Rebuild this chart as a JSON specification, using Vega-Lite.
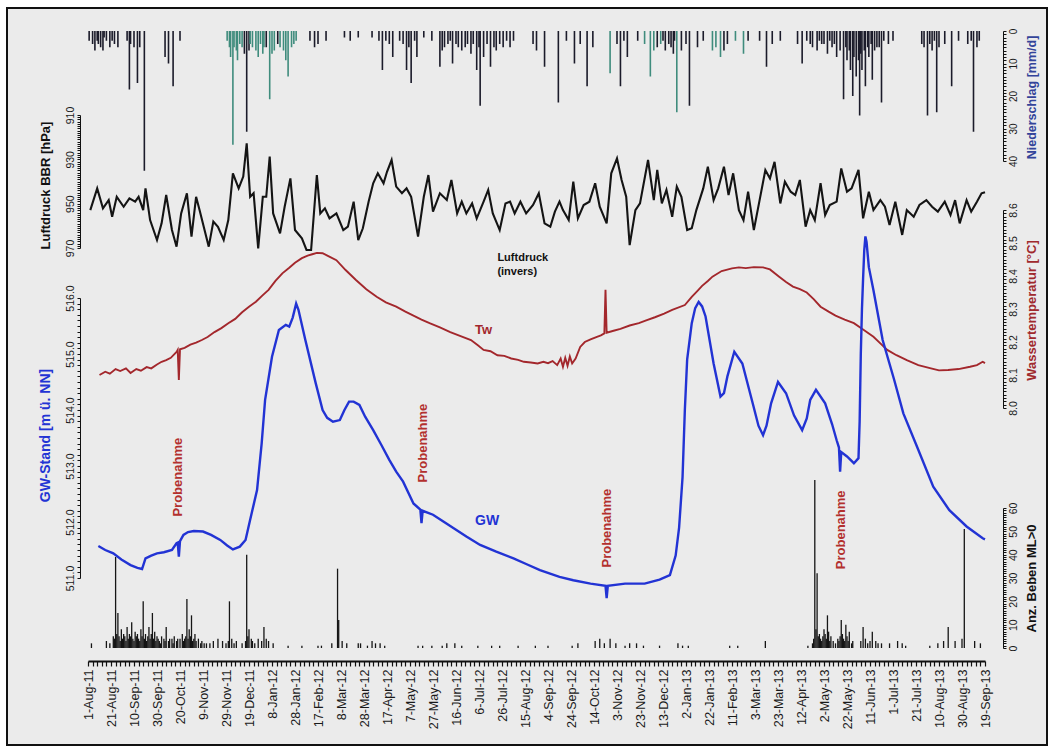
{
  "$schema": "https://vega.github.io/schema/vega-lite/v6.json",
  "autosize": "none",
  "padding": {"left": 7, "top": 8, "right": 7, "bottom": 6},
  "width": 1040,
  "height": 737,
  "background": "#ffffff",
  "config": {
    "font": "Liberation Sans",
    "view": {"stroke": "#111111", "strokeWidth": 2, "fill": "#ebebeb"},
    "axis": {"grid": false, "domainColor": "#111111", "tickColor": "#111111", "labelColor": "#1a1a1a", "labelFont": "Liberation Sans", "titleFont": "Liberation Sans", "labelOverlap": false, "labelFlush": false}
  },
  "encoding": {
    "x": {
      "field": "Datum", "type": "temporal",
      "scale": {"type": "utc", "domain": [{"year": 2011, "month": 8, "date": 1, "utc": true}, {"year": 2013, "month": 9, "date": 19, "utc": true}], "range": [81, 978]},
      "axis": {
        "orient": "bottom", "offset": -84, "title": null,
        "labelAngle": -90, "labelFontSize": 12.5, "labelPadding": 3,
        "tickSize": 5, "tickWidth": 1.2, "domainWidth": 2,
        "labelExpr": "round((datum.value - 1312156800000) / 86400000) % 20 == 0 ? utcFormat(datum.value, '%-d-%b-%y') : ''",
        "values": [
          {"year":2011,"month":8,"date":1,"utc":true},{"year":2011,"month":8,"date":5,"utc":true},{"year":2011,"month":8,"date":9,"utc":true},{"year":2011,"month":8,"date":13,"utc":true},{"year":2011,"month":8,"date":17,"utc":true},
          {"year":2011,"month":8,"date":21,"utc":true},{"year":2011,"month":8,"date":25,"utc":true},{"year":2011,"month":8,"date":29,"utc":true},{"year":2011,"month":8,"date":33,"utc":true},{"year":2011,"month":8,"date":37,"utc":true},
          {"year":2011,"month":8,"date":41,"utc":true},{"year":2011,"month":8,"date":45,"utc":true},{"year":2011,"month":8,"date":49,"utc":true},{"year":2011,"month":8,"date":53,"utc":true},{"year":2011,"month":8,"date":57,"utc":true},
          {"year":2011,"month":8,"date":61,"utc":true},{"year":2011,"month":8,"date":65,"utc":true},{"year":2011,"month":8,"date":69,"utc":true},{"year":2011,"month":8,"date":73,"utc":true},{"year":2011,"month":8,"date":77,"utc":true},
          {"year":2011,"month":8,"date":81,"utc":true},{"year":2011,"month":8,"date":85,"utc":true},{"year":2011,"month":8,"date":89,"utc":true},{"year":2011,"month":8,"date":93,"utc":true},{"year":2011,"month":8,"date":97,"utc":true},
          {"year":2011,"month":8,"date":101,"utc":true},{"year":2011,"month":8,"date":105,"utc":true},{"year":2011,"month":8,"date":109,"utc":true},{"year":2011,"month":8,"date":113,"utc":true},{"year":2011,"month":8,"date":117,"utc":true},
          {"year":2011,"month":8,"date":121,"utc":true},{"year":2011,"month":8,"date":125,"utc":true},{"year":2011,"month":8,"date":129,"utc":true},{"year":2011,"month":8,"date":133,"utc":true},{"year":2011,"month":8,"date":137,"utc":true},
          {"year":2011,"month":8,"date":141,"utc":true},{"year":2011,"month":8,"date":145,"utc":true},{"year":2011,"month":8,"date":149,"utc":true},{"year":2011,"month":8,"date":153,"utc":true},{"year":2011,"month":8,"date":157,"utc":true},
          {"year":2011,"month":8,"date":161,"utc":true},{"year":2011,"month":8,"date":165,"utc":true},{"year":2011,"month":8,"date":169,"utc":true},{"year":2011,"month":8,"date":173,"utc":true},{"year":2011,"month":8,"date":177,"utc":true},
          {"year":2011,"month":8,"date":181,"utc":true},{"year":2011,"month":8,"date":185,"utc":true},{"year":2011,"month":8,"date":189,"utc":true},{"year":2011,"month":8,"date":193,"utc":true},{"year":2011,"month":8,"date":197,"utc":true},
          {"year":2011,"month":8,"date":201,"utc":true},{"year":2011,"month":8,"date":205,"utc":true},{"year":2011,"month":8,"date":209,"utc":true},{"year":2011,"month":8,"date":213,"utc":true},{"year":2011,"month":8,"date":217,"utc":true},
          {"year":2011,"month":8,"date":221,"utc":true},{"year":2011,"month":8,"date":225,"utc":true},{"year":2011,"month":8,"date":229,"utc":true},{"year":2011,"month":8,"date":233,"utc":true},{"year":2011,"month":8,"date":237,"utc":true},
          {"year":2011,"month":8,"date":241,"utc":true},{"year":2011,"month":8,"date":245,"utc":true},{"year":2011,"month":8,"date":249,"utc":true},{"year":2011,"month":8,"date":253,"utc":true},{"year":2011,"month":8,"date":257,"utc":true},
          {"year":2011,"month":8,"date":261,"utc":true},{"year":2011,"month":8,"date":265,"utc":true},{"year":2011,"month":8,"date":269,"utc":true},{"year":2011,"month":8,"date":273,"utc":true},{"year":2011,"month":8,"date":277,"utc":true},
          {"year":2011,"month":8,"date":281,"utc":true},{"year":2011,"month":8,"date":285,"utc":true},{"year":2011,"month":8,"date":289,"utc":true},{"year":2011,"month":8,"date":293,"utc":true},{"year":2011,"month":8,"date":297,"utc":true},
          {"year":2011,"month":8,"date":301,"utc":true},{"year":2011,"month":8,"date":305,"utc":true},{"year":2011,"month":8,"date":309,"utc":true},{"year":2011,"month":8,"date":313,"utc":true},{"year":2011,"month":8,"date":317,"utc":true},
          {"year":2011,"month":8,"date":321,"utc":true},{"year":2011,"month":8,"date":325,"utc":true},{"year":2011,"month":8,"date":329,"utc":true},{"year":2011,"month":8,"date":333,"utc":true},{"year":2011,"month":8,"date":337,"utc":true},
          {"year":2011,"month":8,"date":341,"utc":true},{"year":2011,"month":8,"date":345,"utc":true},{"year":2011,"month":8,"date":349,"utc":true},{"year":2011,"month":8,"date":353,"utc":true},{"year":2011,"month":8,"date":357,"utc":true},
          {"year":2011,"month":8,"date":361,"utc":true},{"year":2011,"month":8,"date":365,"utc":true},{"year":2011,"month":8,"date":369,"utc":true},{"year":2011,"month":8,"date":373,"utc":true},{"year":2011,"month":8,"date":377,"utc":true},
          {"year":2011,"month":8,"date":381,"utc":true},{"year":2011,"month":8,"date":385,"utc":true},{"year":2011,"month":8,"date":389,"utc":true},{"year":2011,"month":8,"date":393,"utc":true},{"year":2011,"month":8,"date":397,"utc":true},
          {"year":2011,"month":8,"date":401,"utc":true},{"year":2011,"month":8,"date":405,"utc":true},{"year":2011,"month":8,"date":409,"utc":true},{"year":2011,"month":8,"date":413,"utc":true},{"year":2011,"month":8,"date":417,"utc":true},
          {"year":2011,"month":8,"date":421,"utc":true},{"year":2011,"month":8,"date":425,"utc":true},{"year":2011,"month":8,"date":429,"utc":true},{"year":2011,"month":8,"date":433,"utc":true},{"year":2011,"month":8,"date":437,"utc":true},
          {"year":2011,"month":8,"date":441,"utc":true},{"year":2011,"month":8,"date":445,"utc":true},{"year":2011,"month":8,"date":449,"utc":true},{"year":2011,"month":8,"date":453,"utc":true},{"year":2011,"month":8,"date":457,"utc":true},
          {"year":2011,"month":8,"date":461,"utc":true},{"year":2011,"month":8,"date":465,"utc":true},{"year":2011,"month":8,"date":469,"utc":true},{"year":2011,"month":8,"date":473,"utc":true},{"year":2011,"month":8,"date":477,"utc":true},
          {"year":2011,"month":8,"date":481,"utc":true},{"year":2011,"month":8,"date":485,"utc":true},{"year":2011,"month":8,"date":489,"utc":true},{"year":2011,"month":8,"date":493,"utc":true},{"year":2011,"month":8,"date":497,"utc":true},
          {"year":2011,"month":8,"date":501,"utc":true},{"year":2011,"month":8,"date":505,"utc":true},{"year":2011,"month":8,"date":509,"utc":true},{"year":2011,"month":8,"date":513,"utc":true},{"year":2011,"month":8,"date":517,"utc":true},
          {"year":2011,"month":8,"date":521,"utc":true},{"year":2011,"month":8,"date":525,"utc":true},{"year":2011,"month":8,"date":529,"utc":true},{"year":2011,"month":8,"date":533,"utc":true},{"year":2011,"month":8,"date":537,"utc":true},
          {"year":2011,"month":8,"date":541,"utc":true},{"year":2011,"month":8,"date":545,"utc":true},{"year":2011,"month":8,"date":549,"utc":true},{"year":2011,"month":8,"date":553,"utc":true},{"year":2011,"month":8,"date":557,"utc":true},
          {"year":2011,"month":8,"date":561,"utc":true},{"year":2011,"month":8,"date":565,"utc":true},{"year":2011,"month":8,"date":569,"utc":true},{"year":2011,"month":8,"date":573,"utc":true},{"year":2011,"month":8,"date":577,"utc":true},
          {"year":2011,"month":8,"date":581,"utc":true},{"year":2011,"month":8,"date":585,"utc":true},{"year":2011,"month":8,"date":589,"utc":true},{"year":2011,"month":8,"date":593,"utc":true},{"year":2011,"month":8,"date":597,"utc":true},
          {"year":2011,"month":8,"date":601,"utc":true},{"year":2011,"month":8,"date":605,"utc":true},{"year":2011,"month":8,"date":609,"utc":true},{"year":2011,"month":8,"date":613,"utc":true},{"year":2011,"month":8,"date":617,"utc":true},
          {"year":2011,"month":8,"date":621,"utc":true},{"year":2011,"month":8,"date":625,"utc":true},{"year":2011,"month":8,"date":629,"utc":true},{"year":2011,"month":8,"date":633,"utc":true},{"year":2011,"month":8,"date":637,"utc":true},
          {"year":2011,"month":8,"date":641,"utc":true},{"year":2011,"month":8,"date":645,"utc":true},{"year":2011,"month":8,"date":649,"utc":true},{"year":2011,"month":8,"date":653,"utc":true},{"year":2011,"month":8,"date":657,"utc":true},
          {"year":2011,"month":8,"date":661,"utc":true},{"year":2011,"month":8,"date":665,"utc":true},{"year":2011,"month":8,"date":669,"utc":true},{"year":2011,"month":8,"date":673,"utc":true},{"year":2011,"month":8,"date":677,"utc":true},
          {"year":2011,"month":8,"date":681,"utc":true},{"year":2011,"month":8,"date":685,"utc":true},{"year":2011,"month":8,"date":689,"utc":true},{"year":2011,"month":8,"date":693,"utc":true},{"year":2011,"month":8,"date":697,"utc":true},
          {"year":2011,"month":8,"date":701,"utc":true},{"year":2011,"month":8,"date":705,"utc":true},{"year":2011,"month":8,"date":709,"utc":true},{"year":2011,"month":8,"date":713,"utc":true},{"year":2011,"month":8,"date":717,"utc":true},
          {"year":2011,"month":8,"date":721,"utc":true},{"year":2011,"month":8,"date":725,"utc":true},{"year":2011,"month":8,"date":729,"utc":true},{"year":2011,"month":8,"date":733,"utc":true},{"year":2011,"month":8,"date":737,"utc":true},
          {"year":2011,"month":8,"date":741,"utc":true},{"year":2011,"month":8,"date":745,"utc":true},{"year":2011,"month":8,"date":749,"utc":true},{"year":2011,"month":8,"date":753,"utc":true},{"year":2011,"month":8,"date":757,"utc":true},
          {"year":2011,"month":8,"date":761,"utc":true},{"year":2011,"month":8,"date":765,"utc":true},{"year":2011,"month":8,"date":769,"utc":true},{"year":2011,"month":8,"date":773,"utc":true},{"year":2011,"month":8,"date":777,"utc":true},
          {"year":2011,"month":8,"date":781,"utc":true}
        ]
      }
    }
  },
  "layer": [
    {
      "data": {"values": [
        {"Datum":"2011-08-02","mm":3,"Art":"Regen"},{"Datum":"2011-08-05","mm":4,"Art":"Regen"},{"Datum":"2011-08-07","mm":6,"Art":"Regen"},{"Datum":"2011-08-09","mm":3,"Art":"Regen"},{"Datum":"2011-08-10","mm":4,"Art":"Regen"},
        {"Datum":"2011-08-12","mm":5,"Art":"Regen"},{"Datum":"2011-08-14","mm":6,"Art":"Regen"},{"Datum":"2011-08-15","mm":2,"Art":"Regen"},{"Datum":"2011-08-17","mm":3,"Art":"Regen"},{"Datum":"2011-08-20","mm":5,"Art":"Regen"},
        {"Datum":"2011-08-22","mm":3,"Art":"Regen"},{"Datum":"2011-08-24","mm":4,"Art":"Regen"},{"Datum":"2011-08-27","mm":5,"Art":"Regen"},
        {"Datum":"2011-09-04","mm":3,"Art":"Regen"},{"Datum":"2011-09-06","mm":18,"Art":"Regen"},{"Datum":"2011-09-07","mm":4,"Art":"Regen"},{"Datum":"2011-09-10","mm":5,"Art":"Regen"},{"Datum":"2011-09-13","mm":16,"Art":"Regen"},
        {"Datum":"2011-09-15","mm":5,"Art":"Regen"},{"Datum":"2011-09-19","mm":43,"Art":"Regen"},
        {"Datum":"2011-10-07","mm":8,"Art":"Regen"},{"Datum":"2011-10-10","mm":10,"Art":"Regen"},{"Datum":"2011-10-14","mm":17,"Art":"Regen"},{"Datum":"2011-10-20","mm":3,"Art":"Regen"},
        {"Datum":"2011-11-30","mm":3,"Art":"Schnee"},{"Datum":"2011-12-02","mm":5,"Art":"Schnee"},{"Datum":"2011-12-03","mm":8,"Art":"Schnee"},{"Datum":"2011-12-05","mm":35,"Art":"Schnee"},{"Datum":"2011-12-06","mm":5,"Art":"Schnee"},
        {"Datum":"2011-12-08","mm":6,"Art":"Schnee"},{"Datum":"2011-12-09","mm":9,"Art":"Schnee"},{"Datum":"2011-12-11","mm":4,"Art":"Schnee"},{"Datum":"2011-12-13","mm":5,"Art":"Schnee"},
        {"Datum":"2011-12-15","mm":7,"Art":"Regen"},{"Datum":"2011-12-17","mm":31,"Art":"Regen"},{"Datum":"2011-12-19","mm":6,"Art":"Regen"},{"Datum":"2011-12-20","mm":4,"Art":"Schnee"},{"Datum":"2011-12-22","mm":5,"Art":"Schnee"},
        {"Datum":"2011-12-25","mm":6,"Art":"Schnee"},{"Datum":"2011-12-27","mm":8,"Art":"Schnee"},{"Datum":"2011-12-29","mm":4,"Art":"Schnee"},{"Datum":"2011-12-31","mm":7,"Art":"Schnee"},{"Datum":"2012-01-01","mm":5,"Art":"Schnee"},
        {"Datum":"2012-01-03","mm":5,"Art":"Regen"},{"Datum":"2012-01-06","mm":21,"Art":"Schnee"},{"Datum":"2012-01-08","mm":7,"Art":"Schnee"},{"Datum":"2012-01-10","mm":6,"Art":"Schnee"},{"Datum":"2012-01-13","mm":4,"Art":"Regen"},
        {"Datum":"2012-01-15","mm":5,"Art":"Schnee"},{"Datum":"2012-01-18","mm":6,"Art":"Schnee"},{"Datum":"2012-01-20","mm":9,"Art":"Schnee"},{"Datum":"2012-01-22","mm":14,"Art":"Schnee"},{"Datum":"2012-01-25","mm":5,"Art":"Schnee"},
        {"Datum":"2012-01-27","mm":4,"Art":"Schnee"},{"Datum":"2012-01-29","mm":3,"Art":"Schnee"},
        {"Datum":"2012-02-10","mm":3,"Art":"Regen"},{"Datum":"2012-02-14","mm":5,"Art":"Regen"},{"Datum":"2012-02-17","mm":4,"Art":"Regen"},{"Datum":"2012-02-24","mm":3,"Art":"Regen"},
        {"Datum":"2012-03-11","mm":2,"Art":"Regen"},{"Datum":"2012-03-16","mm":3,"Art":"Regen"},{"Datum":"2012-03-23","mm":2,"Art":"Regen"},{"Datum":"2012-04-04","mm":2,"Art":"Regen"},{"Datum":"2012-04-10","mm":3,"Art":"Regen"},
        {"Datum":"2012-04-13","mm":12,"Art":"Regen"},{"Datum":"2012-04-16","mm":3,"Art":"Regen"},{"Datum":"2012-04-19","mm":4,"Art":"Regen"},{"Datum":"2012-04-22","mm":8,"Art":"Regen"},{"Datum":"2012-04-28","mm":3,"Art":"Regen"},
        {"Datum":"2012-05-01","mm":4,"Art":"Regen"},{"Datum":"2012-05-04","mm":12,"Art":"Regen"},{"Datum":"2012-05-06","mm":5,"Art":"Regen"},{"Datum":"2012-05-08","mm":16,"Art":"Regen"},{"Datum":"2012-05-11","mm":3,"Art":"Regen"},
        {"Datum":"2012-05-13","mm":8,"Art":"Regen"},{"Datum":"2012-05-19","mm":2,"Art":"Regen"},{"Datum":"2012-05-26","mm":3,"Art":"Regen"},
        {"Datum":"2012-06-02","mm":11,"Art":"Regen"},{"Datum":"2012-06-04","mm":6,"Art":"Regen"},{"Datum":"2012-06-06","mm":5,"Art":"Regen"},{"Datum":"2012-06-09","mm":4,"Art":"Regen"},{"Datum":"2012-06-11","mm":3,"Art":"Regen"},
        {"Datum":"2012-06-13","mm":10,"Art":"Regen"},{"Datum":"2012-06-16","mm":4,"Art":"Regen"},{"Datum":"2012-06-18","mm":5,"Art":"Regen"},{"Datum":"2012-06-21","mm":6,"Art":"Regen"},{"Datum":"2012-06-24","mm":5,"Art":"Regen"},
        {"Datum":"2012-06-26","mm":4,"Art":"Regen"},{"Datum":"2012-06-29","mm":7,"Art":"Regen"},{"Datum":"2012-07-01","mm":4,"Art":"Regen"},{"Datum":"2012-07-04","mm":12,"Art":"Regen"},{"Datum":"2012-07-06","mm":5,"Art":"Regen"},
        {"Datum":"2012-07-07","mm":23,"Art":"Regen"},{"Datum":"2012-07-10","mm":8,"Art":"Regen"},{"Datum":"2012-07-13","mm":4,"Art":"Regen"},{"Datum":"2012-07-16","mm":11,"Art":"Regen"},{"Datum":"2012-07-19","mm":5,"Art":"Regen"},
        {"Datum":"2012-07-21","mm":6,"Art":"Regen"},{"Datum":"2012-07-24","mm":4,"Art":"Regen"},{"Datum":"2012-07-27","mm":5,"Art":"Regen"},{"Datum":"2012-07-30","mm":3,"Art":"Regen"},
        {"Datum":"2012-08-02","mm":5,"Art":"Regen"},{"Datum":"2012-08-05","mm":3,"Art":"Regen"},{"Datum":"2012-08-22","mm":4,"Art":"Regen"},{"Datum":"2012-08-25","mm":6,"Art":"Regen"},
        {"Datum":"2012-09-01","mm":11,"Art":"Regen"},{"Datum":"2012-09-13","mm":22,"Art":"Regen"},{"Datum":"2012-09-20","mm":3,"Art":"Regen"},{"Datum":"2012-09-27","mm":10,"Art":"Regen"},
        {"Datum":"2012-10-02","mm":4,"Art":"Regen"},{"Datum":"2012-10-08","mm":17,"Art":"Regen"},{"Datum":"2012-10-13","mm":5,"Art":"Regen"},{"Datum":"2012-10-28","mm":13,"Art":"Schnee"},
        {"Datum":"2012-11-03","mm":4,"Art":"Regen"},{"Datum":"2012-11-06","mm":17,"Art":"Regen"},{"Datum":"2012-11-09","mm":3,"Art":"Regen"},{"Datum":"2012-11-12","mm":8,"Art":"Regen"},{"Datum":"2012-11-21","mm":3,"Art":"Regen"},
        {"Datum":"2012-11-27","mm":4,"Art":"Schnee"},{"Datum":"2012-12-02","mm":14,"Art":"Schnee"},{"Datum":"2012-12-05","mm":6,"Art":"Schnee"},{"Datum":"2012-12-08","mm":5,"Art":"Regen"},{"Datum":"2012-12-11","mm":4,"Art":"Schnee"},
        {"Datum":"2012-12-13","mm":3,"Art":"Regen"},{"Datum":"2012-12-15","mm":6,"Art":"Regen"},{"Datum":"2012-12-18","mm":4,"Art":"Regen"},{"Datum":"2012-12-20","mm":5,"Art":"Regen"},{"Datum":"2012-12-22","mm":7,"Art":"Regen"},
        {"Datum":"2012-12-23","mm":3,"Art":"Regen"},{"Datum":"2012-12-25","mm":25,"Art":"Schnee"},{"Datum":"2012-12-29","mm":6,"Art":"Regen"},
        {"Datum":"2013-01-02","mm":4,"Art":"Regen"},{"Datum":"2013-01-05","mm":23,"Art":"Regen"},{"Datum":"2013-01-12","mm":5,"Art":"Regen"},{"Datum":"2013-01-17","mm":3,"Art":"Regen"},
        {"Datum":"2013-01-25","mm":6,"Art":"Schnee"},{"Datum":"2013-01-28","mm":5,"Art":"Schnee"},{"Datum":"2013-02-01","mm":8,"Art":"Schnee"},{"Datum":"2013-02-04","mm":6,"Art":"Regen"},{"Datum":"2013-02-07","mm":4,"Art":"Regen"},
        {"Datum":"2013-02-14","mm":3,"Art":"Schnee"},{"Datum":"2013-02-21","mm":7,"Art":"Schnee"},{"Datum":"2013-02-25","mm":3,"Art":"Regen"},
        {"Datum":"2013-03-07","mm":3,"Art":"Regen"},{"Datum":"2013-03-13","mm":11,"Art":"Regen"},{"Datum":"2013-03-18","mm":4,"Art":"Regen"},{"Datum":"2013-03-25","mm":3,"Art":"Regen"},
        {"Datum":"2013-04-09","mm":4,"Art":"Regen"},{"Datum":"2013-04-13","mm":10,"Art":"Regen"},{"Datum":"2013-04-17","mm":3,"Art":"Regen"},{"Datum":"2013-04-20","mm":4,"Art":"Regen"},{"Datum":"2013-04-22","mm":5,"Art":"Regen"},
        {"Datum":"2013-04-26","mm":6,"Art":"Regen"},{"Datum":"2013-04-28","mm":3,"Art":"Regen"},{"Datum":"2013-04-30","mm":4,"Art":"Regen"},{"Datum":"2013-05-02","mm":4,"Art":"Regen"},{"Datum":"2013-05-05","mm":7,"Art":"Regen"},
        {"Datum":"2013-05-07","mm":3,"Art":"Regen"},{"Datum":"2013-05-09","mm":5,"Art":"Regen"},{"Datum":"2013-05-11","mm":4,"Art":"Regen"},{"Datum":"2013-05-13","mm":8,"Art":"Regen"},{"Datum":"2013-05-16","mm":6,"Art":"Regen"},
        {"Datum":"2013-05-19","mm":21,"Art":"Regen"},{"Datum":"2013-05-21","mm":5,"Art":"Regen"},{"Datum":"2013-05-22","mm":9,"Art":"Regen"},{"Datum":"2013-05-24","mm":6,"Art":"Regen"},{"Datum":"2013-05-25","mm":12,"Art":"Regen"},
        {"Datum":"2013-05-27","mm":20,"Art":"Regen"},{"Datum":"2013-05-28","mm":8,"Art":"Regen"},{"Datum":"2013-05-30","mm":14,"Art":"Regen"},{"Datum":"2013-06-01","mm":9,"Art":"Regen"},{"Datum":"2013-06-02","mm":26,"Art":"Regen"},
        {"Datum":"2013-06-03","mm":7,"Art":"Regen"},{"Datum":"2013-06-04","mm":12,"Art":"Regen"},{"Datum":"2013-06-06","mm":6,"Art":"Regen"},{"Datum":"2013-06-07","mm":17,"Art":"Regen"},{"Datum":"2013-06-09","mm":5,"Art":"Regen"},
        {"Datum":"2013-06-10","mm":8,"Art":"Regen"},{"Datum":"2013-06-12","mm":4,"Art":"Regen"},{"Datum":"2013-06-13","mm":15,"Art":"Regen"},{"Datum":"2013-06-15","mm":6,"Art":"Regen"},{"Datum":"2013-06-17","mm":5,"Art":"Regen"},
        {"Datum":"2013-06-19","mm":5,"Art":"Regen"},{"Datum":"2013-06-21","mm":22,"Art":"Regen"},{"Datum":"2013-06-23","mm":3,"Art":"Regen"},{"Datum":"2013-06-27","mm":4,"Art":"Regen"},{"Datum":"2013-07-01","mm":3,"Art":"Regen"},
        {"Datum":"2013-07-26","mm":4,"Art":"Regen"},{"Datum":"2013-07-28","mm":5,"Art":"Regen"},{"Datum":"2013-07-31","mm":26,"Art":"Regen"},{"Datum":"2013-08-02","mm":4,"Art":"Regen"},{"Datum":"2013-08-04","mm":6,"Art":"Regen"},
        {"Datum":"2013-08-06","mm":3,"Art":"Regen"},{"Datum":"2013-08-08","mm":25,"Art":"Regen"},{"Datum":"2013-08-10","mm":5,"Art":"Regen"},{"Datum":"2013-08-15","mm":4,"Art":"Regen"},{"Datum":"2013-08-21","mm":17,"Art":"Regen"},
        {"Datum":"2013-08-27","mm":3,"Art":"Regen"},{"Datum":"2013-09-04","mm":4,"Art":"Regen"},{"Datum":"2013-09-07","mm":3,"Art":"Regen"},{"Datum":"2013-09-09","mm":31,"Art":"Regen"},{"Datum":"2013-09-12","mm":5,"Art":"Regen"},
        {"Datum":"2013-09-14","mm":3,"Art":"Regen"}
      ]},
      "mark": {"type": "rule", "strokeWidth": 1.6},
      "encoding": {
        "y": {"field": "mm", "type": "quantitative",
          "scale": {"domain": [0, 40], "range": [23, 153], "nice": false, "zero": false},
          "axis": {"orient": "right", "offset": -44, "tickCount": 40, "tickSize": 3, "labelAngle": -90, "labelFontSize": 10, "labelPadding": 2,
            "labelExpr": "datum.value % 10 == 0 ? datum.label : ''",
            "title": "Niederschlag [mm/d]", "titleColor": "#33449a", "titleFontSize": 12.5, "titleFontWeight": "bold",
            "titleAngle": -90, "titleX": 28, "titleY": 89, "titleAlign": "center", "titleBaseline": "middle"}},
        "y2": {"datum": 0},
        "color": {"field": "Art", "type": "nominal", "scale": {"domain": ["Regen", "Schnee"], "range": ["#1b1b2a", "#3f8c7d"]}, "legend": null}
      }
    },
    {
      "data": {"values": [
        {"Datum":"2011-08-03","hPa":952.9},{"Datum":"2011-08-09","hPa":943.1},{"Datum":"2011-08-14","hPa":952.1},{"Datum":"2011-08-19","hPa":948.4},{"Datum":"2011-08-22","hPa":955.9},
        {"Datum":"2011-08-26","hPa":946.9},{"Datum":"2011-09-01","hPa":951.4},{"Datum":"2011-09-06","hPa":947.6},{"Datum":"2011-09-11","hPa":949.1},{"Datum":"2011-09-14","hPa":946.9},
        {"Datum":"2011-09-18","hPa":952.9},{"Datum":"2011-09-20","hPa":943.1},{"Datum":"2011-09-24","hPa":957.4},{"Datum":"2011-09-30","hPa":966.4},{"Datum":"2011-10-04","hPa":958.9},
        {"Datum":"2011-10-08","hPa":946.1},{"Datum":"2011-10-13","hPa":961.9},{"Datum":"2011-10-17","hPa":969.4},{"Datum":"2011-10-21","hPa":954.4},{"Datum":"2011-10-26","hPa":945.3},
        {"Datum":"2011-10-30","hPa":964.9},{"Datum":"2011-11-03","hPa":946.9},{"Datum":"2011-11-06","hPa":952.9},{"Datum":"2011-11-14","hPa":969.4},{"Datum":"2011-11-18","hPa":958.1},
        {"Datum":"2011-11-22","hPa":960.4},{"Datum":"2011-11-27","hPa":966.4},{"Datum":"2011-12-01","hPa":957.4},{"Datum":"2011-12-05","hPa":936.3},{"Datum":"2011-12-10","hPa":943.1},
        {"Datum":"2011-12-14","hPa":937.8},{"Datum":"2011-12-17","hPa":922.8},{"Datum":"2011-12-20","hPa":946.9},{"Datum":"2011-12-23","hPa":945.3},{"Datum":"2011-12-27","hPa":970.2},
        {"Datum":"2011-12-31","hPa":946.9},{"Datum":"2012-01-03","hPa":946.9},{"Datum":"2012-01-06","hPa":928.8},{"Datum":"2012-01-09","hPa":954.4},{"Datum":"2012-01-15","hPa":963.4},
        {"Datum":"2012-01-19","hPa":951.4},{"Datum":"2012-01-24","hPa":938.6},{"Datum":"2012-01-28","hPa":961.9},{"Datum":"2012-02-03","hPa":965.6},{"Datum":"2012-02-07","hPa":970.9},
        {"Datum":"2012-02-11","hPa":970.9},{"Datum":"2012-02-16","hPa":937.1},{"Datum":"2012-02-19","hPa":954.4},{"Datum":"2012-02-23","hPa":952.1},{"Datum":"2012-02-27","hPa":956.6},
        {"Datum":"2012-03-04","hPa":954.4},{"Datum":"2012-03-10","hPa":961.9},{"Datum":"2012-03-14","hPa":960.4},{"Datum":"2012-03-19","hPa":949.1},{"Datum":"2012-03-23","hPa":966.4},
        {"Datum":"2012-03-27","hPa":961.1},{"Datum":"2012-04-01","hPa":949.1},{"Datum":"2012-04-05","hPa":940.8},{"Datum":"2012-04-09","hPa":936.3},{"Datum":"2012-04-14","hPa":940.8},
        {"Datum":"2012-04-17","hPa":935.6},{"Datum":"2012-04-21","hPa":930.3},{"Datum":"2012-04-25","hPa":942.3},{"Datum":"2012-04-30","hPa":945.3},{"Datum":"2012-05-04","hPa":943.1},
        {"Datum":"2012-05-08","hPa":946.9},{"Datum":"2012-05-14","hPa":964.9},{"Datum":"2012-05-19","hPa":946.9},{"Datum":"2012-05-23","hPa":937.1},{"Datum":"2012-05-27","hPa":953.6},
        {"Datum":"2012-06-02","hPa":945.3},{"Datum":"2012-06-08","hPa":948.3},{"Datum":"2012-06-12","hPa":939.3},{"Datum":"2012-06-17","hPa":954.4},{"Datum":"2012-06-21","hPa":949.1},
        {"Datum":"2012-06-25","hPa":954.4},{"Datum":"2012-06-30","hPa":949.9},{"Datum":"2012-07-04","hPa":956.6},{"Datum":"2012-07-10","hPa":949.1},{"Datum":"2012-07-14","hPa":943.8},
        {"Datum":"2012-07-18","hPa":954.4},{"Datum":"2012-07-24","hPa":961.9},{"Datum":"2012-07-29","hPa":949.9},{"Datum":"2012-08-02","hPa":949.1},{"Datum":"2012-08-06","hPa":954.4},
        {"Datum":"2012-08-11","hPa":949.1},{"Datum":"2012-08-16","hPa":954.4},{"Datum":"2012-08-22","hPa":950.6},{"Datum":"2012-08-27","hPa":945.3},{"Datum":"2012-09-01","hPa":958.9},
        {"Datum":"2012-09-06","hPa":960.4},{"Datum":"2012-09-10","hPa":953.6},{"Datum":"2012-09-14","hPa":949.1},{"Datum":"2012-09-17","hPa":952.9},{"Datum":"2012-09-22","hPa":957.4},
        {"Datum":"2012-09-26","hPa":940.1},{"Datum":"2012-09-30","hPa":956.6},{"Datum":"2012-10-05","hPa":950.6},{"Datum":"2012-10-10","hPa":949.1},{"Datum":"2012-10-15","hPa":940.8},
        {"Datum":"2012-10-19","hPa":951.4},{"Datum":"2012-10-25","hPa":958.9},{"Datum":"2012-10-29","hPa":936.3},{"Datum":"2012-11-03","hPa":929.6},{"Datum":"2012-11-07","hPa":939.3},
        {"Datum":"2012-11-11","hPa":946.9},{"Datum":"2012-11-14","hPa":968.7},{"Datum":"2012-11-19","hPa":952.9},{"Datum":"2012-11-23","hPa":949.9},{"Datum":"2012-11-30","hPa":930.3},
        {"Datum":"2012-12-05","hPa":948.4},{"Datum":"2012-12-08","hPa":934.8},{"Datum":"2012-12-12","hPa":949.9},{"Datum":"2012-12-16","hPa":943.8},{"Datum":"2012-12-21","hPa":955.9},
        {"Datum":"2012-12-25","hPa":942.3},{"Datum":"2012-12-29","hPa":946.9},{"Datum":"2013-01-03","hPa":961.9},{"Datum":"2013-01-07","hPa":961.1},{"Datum":"2013-01-11","hPa":952.9},
        {"Datum":"2013-01-17","hPa":943.1},{"Datum":"2013-01-21","hPa":933.3},{"Datum":"2013-01-26","hPa":948.4},{"Datum":"2013-01-30","hPa":943.1},{"Datum":"2013-02-04","hPa":933.3},
        {"Datum":"2013-02-08","hPa":946.1},{"Datum":"2013-02-12","hPa":936.3},{"Datum":"2013-02-17","hPa":952.9},{"Datum":"2013-02-21","hPa":957.4},{"Datum":"2013-02-25","hPa":944.6},
        {"Datum":"2013-03-02","hPa":961.9},{"Datum":"2013-03-07","hPa":948.4},{"Datum":"2013-03-12","hPa":934.8},{"Datum":"2013-03-16","hPa":938.6},{"Datum":"2013-03-20","hPa":931.1},
        {"Datum":"2013-03-25","hPa":949.9},{"Datum":"2013-03-29","hPa":940.1},{"Datum":"2013-04-03","hPa":944.6},{"Datum":"2013-04-07","hPa":946.1},{"Datum":"2013-04-11","hPa":939.3},
        {"Datum":"2013-04-16","hPa":960.4},{"Datum":"2013-04-20","hPa":952.9},{"Datum":"2013-04-24","hPa":957.4},{"Datum":"2013-04-29","hPa":940.8},{"Datum":"2013-05-03","hPa":955.1},
        {"Datum":"2013-05-07","hPa":950.6},{"Datum":"2013-05-13","hPa":949.1},{"Datum":"2013-05-17","hPa":934.1},{"Datum":"2013-05-22","hPa":944.6},{"Datum":"2013-05-26","hPa":943.1},
        {"Datum":"2013-06-01","hPa":934.8},{"Datum":"2013-06-05","hPa":956.6},{"Datum":"2013-06-10","hPa":944.6},{"Datum":"2013-06-14","hPa":952.9},{"Datum":"2013-06-20","hPa":948.4},
        {"Datum":"2013-06-24","hPa":951.4},{"Datum":"2013-06-28","hPa":959.6},{"Datum":"2013-07-03","hPa":949.1},{"Datum":"2013-07-09","hPa":964.1},{"Datum":"2013-07-13","hPa":952.9},
        {"Datum":"2013-07-19","hPa":955.9},{"Datum":"2013-07-24","hPa":950.6},{"Datum":"2013-07-30","hPa":948.4},{"Datum":"2013-08-04","hPa":951.4},{"Datum":"2013-08-09","hPa":953.6},
        {"Datum":"2013-08-15","hPa":949.1},{"Datum":"2013-08-20","hPa":955.1},{"Datum":"2013-08-24","hPa":948.4},{"Datum":"2013-08-28","hPa":958.9},{"Datum":"2013-09-03","hPa":948.4},
        {"Datum":"2013-09-07","hPa":953.6},{"Datum":"2013-09-12","hPa":949.1},{"Datum":"2013-09-16","hPa":945.3},{"Datum":"2013-09-19","hPa":944.8}
      ]},
      "mark": {"type": "line", "color": "#141414", "strokeWidth": 2.1, "strokeJoin": "miter"},
      "encoding": {
        "y": {"field": "hPa", "type": "quantitative",
          "scale": {"domain": [910, 970], "range": [107, 240], "nice": false, "zero": false},
          "axis": {"orient": "left", "offset": -73, "tickCount": 60, "tickSize": 3, "labelAngle": -90, "labelFontSize": 10.5, "labelPadding": 2,
            "labelExpr": "datum.value % 20 == 10 ? datum.label : ''",
            "title": "Luftdruck BBR [hPa]", "titleColor": "#111111", "titleFontSize": 13, "titleFontWeight": "bold",
            "titleAngle": -90, "titleX": -35, "titleY": 177, "titleAlign": "center", "titleBaseline": "middle"}}
      }
    },
    {
      "data": {"values": [
        {"Datum":"2011-08-04","Anzahl":2},{"Datum":"2011-08-17","Anzahl":3},{"Datum":"2011-08-20","Anzahl":2},{"Datum":"2011-08-23","Anzahl":5},{"Datum":"2011-08-24","Anzahl":4},
        {"Datum":"2011-08-25","Anzahl":39},{"Datum":"2011-08-26","Anzahl":6},{"Datum":"2011-08-27","Anzahl":15},{"Datum":"2011-08-28","Anzahl":5},{"Datum":"2011-08-29","Anzahl":3},
        {"Datum":"2011-08-30","Anzahl":8},{"Datum":"2011-08-31","Anzahl":4},{"Datum":"2011-09-01","Anzahl":6},{"Datum":"2011-09-02","Anzahl":5},{"Datum":"2011-09-03","Anzahl":3},
        {"Datum":"2011-09-04","Anzahl":9},{"Datum":"2011-09-05","Anzahl":4},{"Datum":"2011-09-06","Anzahl":6},{"Datum":"2011-09-07","Anzahl":5},{"Datum":"2011-09-08","Anzahl":11},
        {"Datum":"2011-09-09","Anzahl":4},{"Datum":"2011-09-10","Anzahl":3},{"Datum":"2011-09-11","Anzahl":7},{"Datum":"2011-09-12","Anzahl":5},{"Datum":"2011-09-13","Anzahl":6},
        {"Datum":"2011-09-14","Anzahl":4},{"Datum":"2011-09-15","Anzahl":3},{"Datum":"2011-09-16","Anzahl":8},{"Datum":"2011-09-17","Anzahl":5},{"Datum":"2011-09-18","Anzahl":20},
        {"Datum":"2011-09-19","Anzahl":4},{"Datum":"2011-09-20","Anzahl":6},{"Datum":"2011-09-21","Anzahl":3},{"Datum":"2011-09-22","Anzahl":5},{"Datum":"2011-09-23","Anzahl":9},
        {"Datum":"2011-09-24","Anzahl":4},{"Datum":"2011-09-25","Anzahl":6},{"Datum":"2011-09-26","Anzahl":15},{"Datum":"2011-09-27","Anzahl":4},{"Datum":"2011-09-28","Anzahl":7},
        {"Datum":"2011-09-29","Anzahl":3},{"Datum":"2011-09-30","Anzahl":5},{"Datum":"2011-10-01","Anzahl":4},{"Datum":"2011-10-02","Anzahl":3},{"Datum":"2011-10-03","Anzahl":2},
        {"Datum":"2011-10-04","Anzahl":5},{"Datum":"2011-10-06","Anzahl":4},{"Datum":"2011-10-07","Anzahl":3},{"Datum":"2011-10-08","Anzahl":9},{"Datum":"2011-10-10","Anzahl":3},
        {"Datum":"2011-10-11","Anzahl":4},{"Datum":"2011-10-13","Anzahl":4},{"Datum":"2011-10-14","Anzahl":2},{"Datum":"2011-10-15","Anzahl":5},{"Datum":"2011-10-17","Anzahl":3},
        {"Datum":"2011-10-18","Anzahl":4},{"Datum":"2011-10-20","Anzahl":4},{"Datum":"2011-10-22","Anzahl":6},{"Datum":"2011-10-23","Anzahl":3},{"Datum":"2011-10-24","Anzahl":4},
        {"Datum":"2011-10-25","Anzahl":5},{"Datum":"2011-10-26","Anzahl":21},{"Datum":"2011-10-27","Anzahl":4},{"Datum":"2011-10-28","Anzahl":8},{"Datum":"2011-10-29","Anzahl":5},
        {"Datum":"2011-10-30","Anzahl":14},{"Datum":"2011-10-31","Anzahl":3},{"Datum":"2011-11-01","Anzahl":4},{"Datum":"2011-11-02","Anzahl":6},{"Datum":"2011-11-03","Anzahl":3},
        {"Datum":"2011-11-05","Anzahl":4},{"Datum":"2011-11-07","Anzahl":2},{"Datum":"2011-11-08","Anzahl":3},{"Datum":"2011-11-10","Anzahl":2},{"Datum":"2011-11-12","Anzahl":2},
        {"Datum":"2011-11-15","Anzahl":2},{"Datum":"2011-11-18","Anzahl":3},{"Datum":"2011-11-22","Anzahl":4},{"Datum":"2011-11-26","Anzahl":3},{"Datum":"2011-11-29","Anzahl":2},
        {"Datum":"2011-12-01","Anzahl":3},{"Datum":"2011-12-02","Anzahl":20},{"Datum":"2011-12-04","Anzahl":4},{"Datum":"2011-12-06","Anzahl":2},{"Datum":"2011-12-08","Anzahl":3},
        {"Datum":"2011-12-13","Anzahl":2},{"Datum":"2011-12-16","Anzahl":3},{"Datum":"2011-12-17","Anzahl":40},{"Datum":"2011-12-18","Anzahl":5},{"Datum":"2011-12-19","Anzahl":8},
        {"Datum":"2011-12-21","Anzahl":4},{"Datum":"2011-12-22","Anzahl":3},{"Datum":"2011-12-24","Anzahl":2},{"Datum":"2011-12-27","Anzahl":4},{"Datum":"2011-12-30","Anzahl":3},
        {"Datum":"2012-01-01","Anzahl":9},{"Datum":"2012-01-03","Anzahl":4},{"Datum":"2012-01-05","Anzahl":3},{"Datum":"2012-01-09","Anzahl":2},{"Datum":"2012-01-22","Anzahl":1},
        {"Datum":"2012-02-03","Anzahl":1},{"Datum":"2012-02-17","Anzahl":1},{"Datum":"2012-02-20","Anzahl":1},{"Datum":"2012-02-29","Anzahl":2},{"Datum":"2012-03-05","Anzahl":34},
        {"Datum":"2012-03-06","Anzahl":12},{"Datum":"2012-03-09","Anzahl":3},{"Datum":"2012-03-13","Anzahl":2},{"Datum":"2012-03-23","Anzahl":2},{"Datum":"2012-03-25","Anzahl":2},
        {"Datum":"2012-03-31","Anzahl":1},{"Datum":"2012-04-04","Anzahl":3},{"Datum":"2012-04-07","Anzahl":2},{"Datum":"2012-04-11","Anzahl":2},{"Datum":"2012-04-15","Anzahl":1},
        {"Datum":"2012-05-14","Anzahl":1},{"Datum":"2012-05-18","Anzahl":1},{"Datum":"2012-05-26","Anzahl":1},{"Datum":"2012-06-04","Anzahl":1},{"Datum":"2012-06-08","Anzahl":2},
        {"Datum":"2012-06-15","Anzahl":2},{"Datum":"2012-06-21","Anzahl":1},{"Datum":"2012-07-05","Anzahl":1},{"Datum":"2012-07-17","Anzahl":1},{"Datum":"2012-07-24","Anzahl":1},
        {"Datum":"2012-08-09","Anzahl":1},{"Datum":"2012-08-24","Anzahl":1},{"Datum":"2012-09-04","Anzahl":1},{"Datum":"2012-09-25","Anzahl":1},{"Datum":"2012-09-30","Anzahl":2},
        {"Datum":"2012-10-15","Anzahl":3},{"Datum":"2012-10-19","Anzahl":4},{"Datum":"2012-10-23","Anzahl":2},{"Datum":"2012-10-28","Anzahl":4},{"Datum":"2012-11-02","Anzahl":2},
        {"Datum":"2012-11-10","Anzahl":1},{"Datum":"2012-11-14","Anzahl":2},{"Datum":"2012-11-20","Anzahl":2},{"Datum":"2012-11-26","Anzahl":1},{"Datum":"2012-12-10","Anzahl":1},
        {"Datum":"2012-12-26","Anzahl":2},{"Datum":"2012-12-30","Anzahl":1},{"Datum":"2013-01-04","Anzahl":1},{"Datum":"2013-02-09","Anzahl":1},{"Datum":"2013-02-16","Anzahl":1},
        {"Datum":"2013-03-12","Anzahl":3},{"Datum":"2013-04-18","Anzahl":1},{"Datum":"2013-04-22","Anzahl":2},{"Datum":"2013-04-23","Anzahl":4},{"Datum":"2013-04-24","Anzahl":72},
        {"Datum":"2013-04-25","Anzahl":8},{"Datum":"2013-04-26","Anzahl":32},{"Datum":"2013-04-27","Anzahl":5},{"Datum":"2013-04-28","Anzahl":6},{"Datum":"2013-04-29","Anzahl":4},
        {"Datum":"2013-04-30","Anzahl":3},{"Datum":"2013-05-01","Anzahl":5},{"Datum":"2013-05-02","Anzahl":8},{"Datum":"2013-05-03","Anzahl":6},{"Datum":"2013-05-04","Anzahl":4},
        {"Datum":"2013-05-05","Anzahl":14},{"Datum":"2013-05-06","Anzahl":7},{"Datum":"2013-05-07","Anzahl":3},{"Datum":"2013-05-08","Anzahl":5},{"Datum":"2013-05-10","Anzahl":3},
        {"Datum":"2013-05-12","Anzahl":2},{"Datum":"2013-05-14","Anzahl":4},{"Datum":"2013-05-15","Anzahl":3},{"Datum":"2013-05-16","Anzahl":5},{"Datum":"2013-05-17","Anzahl":12},
        {"Datum":"2013-05-18","Anzahl":6},{"Datum":"2013-05-19","Anzahl":4},{"Datum":"2013-05-20","Anzahl":3},{"Datum":"2013-05-21","Anzahl":10},{"Datum":"2013-05-22","Anzahl":5},
        {"Datum":"2013-05-23","Anzahl":3},{"Datum":"2013-05-24","Anzahl":7},{"Datum":"2013-05-26","Anzahl":2},{"Datum":"2013-05-27","Anzahl":3},{"Datum":"2013-06-03","Anzahl":3},
        {"Datum":"2013-06-05","Anzahl":9},{"Datum":"2013-06-07","Anzahl":4},{"Datum":"2013-06-09","Anzahl":2},{"Datum":"2013-06-11","Anzahl":3},{"Datum":"2013-06-13","Anzahl":7},
        {"Datum":"2013-06-16","Anzahl":3},{"Datum":"2013-06-18","Anzahl":2},{"Datum":"2013-06-21","Anzahl":2},{"Datum":"2013-06-28","Anzahl":2},{"Datum":"2013-07-05","Anzahl":3},
        {"Datum":"2013-07-09","Anzahl":2},{"Datum":"2013-07-12","Anzahl":1},{"Datum":"2013-08-02","Anzahl":1},{"Datum":"2013-08-09","Anzahl":2},{"Datum":"2013-08-14","Anzahl":3},
        {"Datum":"2013-08-18","Anzahl":9},{"Datum":"2013-08-24","Anzahl":3},{"Datum":"2013-08-30","Anzahl":4},{"Datum":"2013-09-01","Anzahl":51},{"Datum":"2013-09-10","Anzahl":3},
        {"Datum":"2013-09-15","Anzahl":2}
      ]},
      "mark": {"type": "rule", "color": "#151515", "strokeWidth": 1.3},
      "encoding": {
        "y": {"field": "Anzahl", "type": "quantitative",
          "scale": {"domain": [0, 60], "range": [640, 500], "nice": false, "zero": false},
          "axis": {"orient": "right", "offset": -44, "tickCount": 60, "tickSize": 3, "labelAngle": -90, "labelFontSize": 10.5, "labelPadding": 2,
            "labelExpr": "datum.value % 10 == 0 ? datum.label : ''",
            "title": "Anz. Beben ML>0", "titleColor": "#111111", "titleFontSize": 13, "titleFontWeight": "bold",
            "titleAngle": -90, "titleX": 28, "titleY": 570, "titleAlign": "center", "titleBaseline": "middle"}},
        "y2": {"datum": 0}
      }
    },
    {
      "data": {"values": [
        {"Datum":"2011-08-11","Tw":8.100},{"Datum":"2011-08-16","Tw":8.110},{"Datum":"2011-08-20","Tw":8.104},{"Datum":"2011-08-25","Tw":8.118},{"Datum":"2011-08-29","Tw":8.112},
        {"Datum":"2011-09-03","Tw":8.120},{"Datum":"2011-09-07","Tw":8.106},{"Datum":"2011-09-12","Tw":8.118},{"Datum":"2011-09-16","Tw":8.113},{"Datum":"2011-09-21","Tw":8.124},
        {"Datum":"2011-09-25","Tw":8.120},{"Datum":"2011-09-30","Tw":8.132},{"Datum":"2011-10-04","Tw":8.140},{"Datum":"2011-10-08","Tw":8.145},{"Datum":"2011-10-12","Tw":8.152},
        {"Datum":"2011-10-17","Tw":8.170},{"Datum":"2011-10-18","Tw":8.176},{"Datum":"2011-10-19","Tw":8.085},{"Datum":"2011-10-20","Tw":8.178},{"Datum":"2011-10-24","Tw":8.182},
        {"Datum":"2011-10-29","Tw":8.192},{"Datum":"2011-11-03","Tw":8.198},{"Datum":"2011-11-08","Tw":8.206},{"Datum":"2011-11-13","Tw":8.215},{"Datum":"2011-11-19","Tw":8.230},
        {"Datum":"2011-11-25","Tw":8.242},{"Datum":"2011-12-01","Tw":8.257},{"Datum":"2011-12-07","Tw":8.270},{"Datum":"2011-12-13","Tw":8.290},{"Datum":"2011-12-19","Tw":8.307},
        {"Datum":"2011-12-25","Tw":8.322},{"Datum":"2011-12-31","Tw":8.342},{"Datum":"2012-01-05","Tw":8.358},{"Datum":"2012-01-11","Tw":8.385},{"Datum":"2012-01-17","Tw":8.408},
        {"Datum":"2012-01-23","Tw":8.425},{"Datum":"2012-01-28","Tw":8.440},{"Datum":"2012-02-03","Tw":8.454},{"Datum":"2012-02-08","Tw":8.462},{"Datum":"2012-02-12","Tw":8.466},
        {"Datum":"2012-02-16","Tw":8.470},{"Datum":"2012-02-21","Tw":8.469},{"Datum":"2012-02-26","Tw":8.460},{"Datum":"2012-03-04","Tw":8.448},{"Datum":"2012-03-12","Tw":8.418},
        {"Datum":"2012-03-21","Tw":8.388},{"Datum":"2012-03-30","Tw":8.360},{"Datum":"2012-04-08","Tw":8.337},{"Datum":"2012-04-16","Tw":8.320},{"Datum":"2012-04-25","Tw":8.307},
        {"Datum":"2012-05-03","Tw":8.292},{"Datum":"2012-05-10","Tw":8.280},{"Datum":"2012-05-17","Tw":8.268},{"Datum":"2012-05-24","Tw":8.257},{"Datum":"2012-06-02","Tw":8.244},
        {"Datum":"2012-06-11","Tw":8.230},{"Datum":"2012-06-20","Tw":8.218},{"Datum":"2012-06-29","Tw":8.206},{"Datum":"2012-07-05","Tw":8.190},{"Datum":"2012-07-10","Tw":8.176},
        {"Datum":"2012-07-16","Tw":8.172},{"Datum":"2012-07-22","Tw":8.160},{"Datum":"2012-07-28","Tw":8.158},{"Datum":"2012-08-03","Tw":8.150},{"Datum":"2012-08-09","Tw":8.146},
        {"Datum":"2012-08-14","Tw":8.140},{"Datum":"2012-08-20","Tw":8.138},{"Datum":"2012-08-26","Tw":8.135},{"Datum":"2012-08-31","Tw":8.140},{"Datum":"2012-09-04","Tw":8.136},
        {"Datum":"2012-09-08","Tw":8.142},{"Datum":"2012-09-12","Tw":8.130},{"Datum":"2012-09-15","Tw":8.150},{"Datum":"2012-09-17","Tw":8.125},{"Datum":"2012-09-19","Tw":8.152},
        {"Datum":"2012-09-21","Tw":8.128},{"Datum":"2012-09-23","Tw":8.156},{"Datum":"2012-09-25","Tw":8.135},{"Datum":"2012-09-28","Tw":8.150},{"Datum":"2012-10-02","Tw":8.185},
        {"Datum":"2012-10-06","Tw":8.200},{"Datum":"2012-10-11","Tw":8.208},{"Datum":"2012-10-16","Tw":8.215},{"Datum":"2012-10-20","Tw":8.220},{"Datum":"2012-10-23","Tw":8.226},
        {"Datum":"2012-10-24","Tw":8.358},{"Datum":"2012-10-25","Tw":8.228},{"Datum":"2012-10-31","Tw":8.234},{"Datum":"2012-11-06","Tw":8.240},{"Datum":"2012-11-14","Tw":8.250},
        {"Datum":"2012-11-22","Tw":8.257},{"Datum":"2012-11-29","Tw":8.266},{"Datum":"2012-12-06","Tw":8.275},{"Datum":"2012-12-14","Tw":8.286},{"Datum":"2012-12-21","Tw":8.297},
        {"Datum":"2013-01-01","Tw":8.312},{"Datum":"2013-01-07","Tw":8.337},{"Datum":"2013-01-12","Tw":8.355},{"Datum":"2013-01-16","Tw":8.370},{"Datum":"2013-01-21","Tw":8.385},
        {"Datum":"2013-01-25","Tw":8.398},{"Datum":"2013-02-02","Tw":8.415},{"Datum":"2013-02-11","Tw":8.423},{"Datum":"2013-02-17","Tw":8.426},{"Datum":"2013-02-23","Tw":8.424},
        {"Datum":"2013-03-02","Tw":8.427},{"Datum":"2013-03-10","Tw":8.426},{"Datum":"2013-03-16","Tw":8.420},{"Datum":"2013-03-24","Tw":8.398},{"Datum":"2013-03-30","Tw":8.382},
        {"Datum":"2013-04-05","Tw":8.368},{"Datum":"2013-04-11","Tw":8.360},{"Datum":"2013-04-17","Tw":8.350},{"Datum":"2013-04-23","Tw":8.330},{"Datum":"2013-04-29","Tw":8.307},
        {"Datum":"2013-05-06","Tw":8.292},{"Datum":"2013-05-12","Tw":8.280},{"Datum":"2013-05-20","Tw":8.268},{"Datum":"2013-05-28","Tw":8.257},{"Datum":"2013-06-05","Tw":8.238},
        {"Datum":"2013-06-14","Tw":8.216},{"Datum":"2013-06-20","Tw":8.196},{"Datum":"2013-06-26","Tw":8.176},{"Datum":"2013-07-04","Tw":8.160},{"Datum":"2013-07-13","Tw":8.145},
        {"Datum":"2013-07-23","Tw":8.130},{"Datum":"2013-08-03","Tw":8.120},{"Datum":"2013-08-10","Tw":8.114},{"Datum":"2013-08-18","Tw":8.115},{"Datum":"2013-08-27","Tw":8.118},
        {"Datum":"2013-09-06","Tw":8.125},{"Datum":"2013-09-12","Tw":8.130},{"Datum":"2013-09-17","Tw":8.140},{"Datum":"2013-09-19","Tw":8.136}
      ]},
      "mark": {"type": "line", "color": "#a3272c", "strokeWidth": 1.9},
      "encoding": {
        "y": {"field": "Tw", "type": "quantitative",
          "scale": {"domain": [8.0, 8.6], "range": [400, 202], "nice": false, "zero": false},
          "axis": {"orient": "right", "offset": -44, "tickCount": 60, "tickSize": 3, "labelAngle": -90, "labelFontSize": 10.5, "labelPadding": 2,
            "labelExpr": "abs(datum.value * 10 - round(datum.value * 10)) < 0.001 ? format(datum.value, '.1f') : ''",
            "title": "Wassertemperatur [°C]", "titleColor": "#a0292d", "titleFontSize": 13, "titleFontWeight": "bold",
            "titleAngle": -90, "titleX": 28, "titleY": 302, "titleAlign": "center", "titleBaseline": "middle"}}
      }
    },
    {
      "data": {"values": [
        {"Datum":"2011-08-10","GW":511.57},{"Datum":"2011-08-16","GW":511.50},{"Datum":"2011-08-23","GW":511.44},{"Datum":"2011-08-30","GW":511.33},{"Datum":"2011-09-07","GW":511.23},
        {"Datum":"2011-09-13","GW":511.18},{"Datum":"2011-09-17","GW":511.16},{"Datum":"2011-09-20","GW":511.35},{"Datum":"2011-09-25","GW":511.40},{"Datum":"2011-09-30","GW":511.44},
        {"Datum":"2011-10-06","GW":511.46},{"Datum":"2011-10-13","GW":511.50},{"Datum":"2011-10-17","GW":511.62},{"Datum":"2011-10-18","GW":511.63},{"Datum":"2011-10-19","GW":511.38},
        {"Datum":"2011-10-20","GW":511.66},{"Datum":"2011-10-23","GW":511.77},{"Datum":"2011-10-27","GW":511.82},{"Datum":"2011-11-01","GW":511.84},{"Datum":"2011-11-09","GW":511.83},
        {"Datum":"2011-11-16","GW":511.77},{"Datum":"2011-11-24","GW":511.68},{"Datum":"2011-11-30","GW":511.58},{"Datum":"2011-12-05","GW":511.51},{"Datum":"2011-12-11","GW":511.56},
        {"Datum":"2011-12-16","GW":511.68},{"Datum":"2011-12-20","GW":512.04},{"Datum":"2011-12-26","GW":512.57},{"Datum":"2011-12-30","GW":513.40},{"Datum":"2012-01-02","GW":514.18},
        {"Datum":"2012-01-08","GW":514.95},{"Datum":"2012-01-14","GW":515.43},{"Datum":"2012-01-20","GW":515.52},{"Datum":"2012-01-23","GW":515.49},{"Datum":"2012-01-26","GW":515.65},
        {"Datum":"2012-01-29","GW":515.90},{"Datum":"2012-01-31","GW":515.79},{"Datum":"2012-02-06","GW":515.25},{"Datum":"2012-02-15","GW":514.48},{"Datum":"2012-02-21","GW":514.00},
        {"Datum":"2012-02-25","GW":513.86},{"Datum":"2012-03-01","GW":513.79},{"Datum":"2012-03-07","GW":513.82},{"Datum":"2012-03-11","GW":514.00},{"Datum":"2012-03-15","GW":514.15},
        {"Datum":"2012-03-19","GW":514.15},{"Datum":"2012-03-24","GW":514.09},{"Datum":"2012-03-29","GW":513.88},{"Datum":"2012-04-05","GW":513.64},{"Datum":"2012-04-12","GW":513.38},
        {"Datum":"2012-04-19","GW":513.11},{"Datum":"2012-04-25","GW":512.90},{"Datum":"2012-05-01","GW":512.72},{"Datum":"2012-05-10","GW":512.33},{"Datum":"2012-05-16","GW":512.22},
        {"Datum":"2012-05-17","GW":511.98},{"Datum":"2012-05-18","GW":512.20},{"Datum":"2012-05-27","GW":512.13},{"Datum":"2012-06-05","GW":512.01},{"Datum":"2012-06-14","GW":511.89},
        {"Datum":"2012-06-25","GW":511.74},{"Datum":"2012-07-07","GW":511.59},{"Datum":"2012-07-21","GW":511.47},{"Datum":"2012-08-05","GW":511.35},{"Datum":"2012-08-16","GW":511.25},
        {"Datum":"2012-08-28","GW":511.14},{"Datum":"2012-09-14","GW":511.02},{"Datum":"2012-09-26","GW":510.96},{"Datum":"2012-10-11","GW":510.90},{"Datum":"2012-10-24","GW":510.86},
        {"Datum":"2012-10-25","GW":510.64},{"Datum":"2012-10-26","GW":510.86},{"Datum":"2012-11-10","GW":510.90},{"Datum":"2012-11-27","GW":510.90},{"Datum":"2012-12-10","GW":510.97},
        {"Datum":"2012-12-19","GW":511.05},{"Datum":"2012-12-24","GW":511.40},{"Datum":"2012-12-27","GW":511.90},{"Datum":"2012-12-30","GW":512.80},{"Datum":"2013-01-01","GW":514.00},
        {"Datum":"2013-01-03","GW":514.90},{"Datum":"2013-01-07","GW":515.55},{"Datum":"2013-01-10","GW":515.82},{"Datum":"2013-01-13","GW":515.93},{"Datum":"2013-01-16","GW":515.85},
        {"Datum":"2013-01-19","GW":515.67},{"Datum":"2013-01-26","GW":514.83},{"Datum":"2013-02-01","GW":514.24},{"Datum":"2013-02-04","GW":514.30},{"Datum":"2013-02-07","GW":514.60},
        {"Datum":"2013-02-13","GW":515.04},{"Datum":"2013-02-20","GW":514.83},{"Datum":"2013-03-01","GW":514.12},{"Datum":"2013-03-06","GW":513.72},{"Datum":"2013-03-10","GW":513.55},
        {"Datum":"2013-03-13","GW":513.72},{"Datum":"2013-03-17","GW":514.12},{"Datum":"2013-03-23","GW":514.50},{"Datum":"2013-03-30","GW":514.30},{"Datum":"2013-04-06","GW":513.90},
        {"Datum":"2013-04-13","GW":513.64},{"Datum":"2013-04-17","GW":513.85},{"Datum":"2013-04-20","GW":514.18},{"Datum":"2013-04-25","GW":514.36},{"Datum":"2013-05-03","GW":514.12},
        {"Datum":"2013-05-09","GW":513.75},{"Datum":"2013-05-13","GW":513.46},{"Datum":"2013-05-15","GW":513.33},{"Datum":"2013-05-16","GW":512.90},{"Datum":"2013-05-17","GW":513.25},
        {"Datum":"2013-05-22","GW":513.17},{"Datum":"2013-05-28","GW":513.05},{"Datum":"2013-06-01","GW":513.14},{"Datum":"2013-06-02","GW":513.80},{"Datum":"2013-06-03","GW":515.00},
        {"Datum":"2013-06-04","GW":515.80},{"Datum":"2013-06-05","GW":516.35},{"Datum":"2013-06-06","GW":516.85},{"Datum":"2013-06-07","GW":517.10},{"Datum":"2013-06-08","GW":517.00},
        {"Datum":"2013-06-10","GW":516.55},{"Datum":"2013-06-14","GW":516.14},{"Datum":"2013-06-22","GW":515.25},{"Datum":"2013-07-02","GW":514.54},{"Datum":"2013-07-10","GW":513.94},
        {"Datum":"2013-07-22","GW":513.34},{"Datum":"2013-08-05","GW":512.63},{"Datum":"2013-08-19","GW":512.21},{"Datum":"2013-09-03","GW":511.92},{"Datum":"2013-09-17","GW":511.71},
        {"Datum":"2013-09-19","GW":511.69}
      ]},
      "mark": {"type": "line", "color": "#2233d4", "strokeWidth": 2.4},
      "encoding": {
        "y": {"field": "GW", "type": "quantitative",
          "scale": {"domain": [511, 516], "range": [570, 290], "nice": false, "zero": false},
          "axis": {"orient": "left", "offset": -73, "tickCount": 50, "tickSize": 3, "labelAngle": -90, "labelFontSize": 10.5, "labelPadding": 2,
            "labelExpr": "abs(datum.value - round(datum.value)) < 0.001 ? format(datum.value, '.1f') : ''",
            "title": "GW-Stand [m ü. NN]", "titleColor": "#2233d4", "titleFontSize": 14, "titleFontWeight": "bold",
            "titleAngle": -90, "titleX": -35, "titleY": 427, "titleAlign": "center", "titleBaseline": "middle"}}
      }
    },
    {
      "data": {"values": [
        {"Datum":"2011-10-18","GW":512.80,"Text":"Probenahme"},
        {"Datum":"2012-05-18","GW":513.41,"Text":"Probenahme"},
        {"Datum":"2012-10-25","GW":511.89,"Text":"Probenahme"},
        {"Datum":"2013-05-17","GW":511.86,"Text":"Probenahme"}
      ]},
      "mark": {"type": "text", "angle": 270, "align": "center", "baseline": "middle", "color": "#b3302e", "fontSize": 13, "fontWeight": "bold"},
      "encoding": {
        "y": {"field": "GW", "type": "quantitative", "scale": {"domain": [511, 516], "range": [570, 290], "nice": false, "zero": false}, "axis": null},
        "text": {"field": "Text"}
      }
    },
    {
      "data": {"values": [{"Datum":"2012-07-13","GW":512.02,"Text":"GW"}]},
      "mark": {"type": "text", "align": "center", "baseline": "middle", "color": "#2233d4", "fontSize": 14, "fontWeight": "bold"},
      "encoding": {
        "y": {"field": "GW", "type": "quantitative", "scale": {"domain": [511, 516], "range": [570, 290], "nice": false, "zero": false}, "axis": null},
        "text": {"field": "Text"}
      }
    },
    {
      "data": {"values": [{"Datum":"2012-07-10","Tw":8.236,"Text":"Tw"}]},
      "mark": {"type": "text", "align": "center", "baseline": "middle", "color": "#a3272c", "fontSize": 13, "fontWeight": "bold"},
      "encoding": {
        "y": {"field": "Tw", "type": "quantitative", "scale": {"domain": [8.0, 8.6], "range": [400, 202], "nice": false, "zero": false}, "axis": null},
        "text": {"field": "Text"}
      }
    },
    {
      "data": {"values": [
        {"Datum":"2012-07-22","hPa":974.5,"Text":"Luftdruck"},
        {"Datum":"2012-07-22","hPa":980.8,"Text":"(invers)"}
      ]},
      "mark": {"type": "text", "align": "left", "baseline": "middle", "color": "#111111", "fontSize": 11, "fontWeight": "bold"},
      "encoding": {
        "y": {"field": "hPa", "type": "quantitative", "scale": {"domain": [910, 970], "range": [107, 240], "nice": false, "zero": false}, "axis": null},
        "text": {"field": "Text"}
      }
    }
  ],
  "resolve": {"scale": {"y": "independent"}, "axis": {"y": "independent"}}
}
